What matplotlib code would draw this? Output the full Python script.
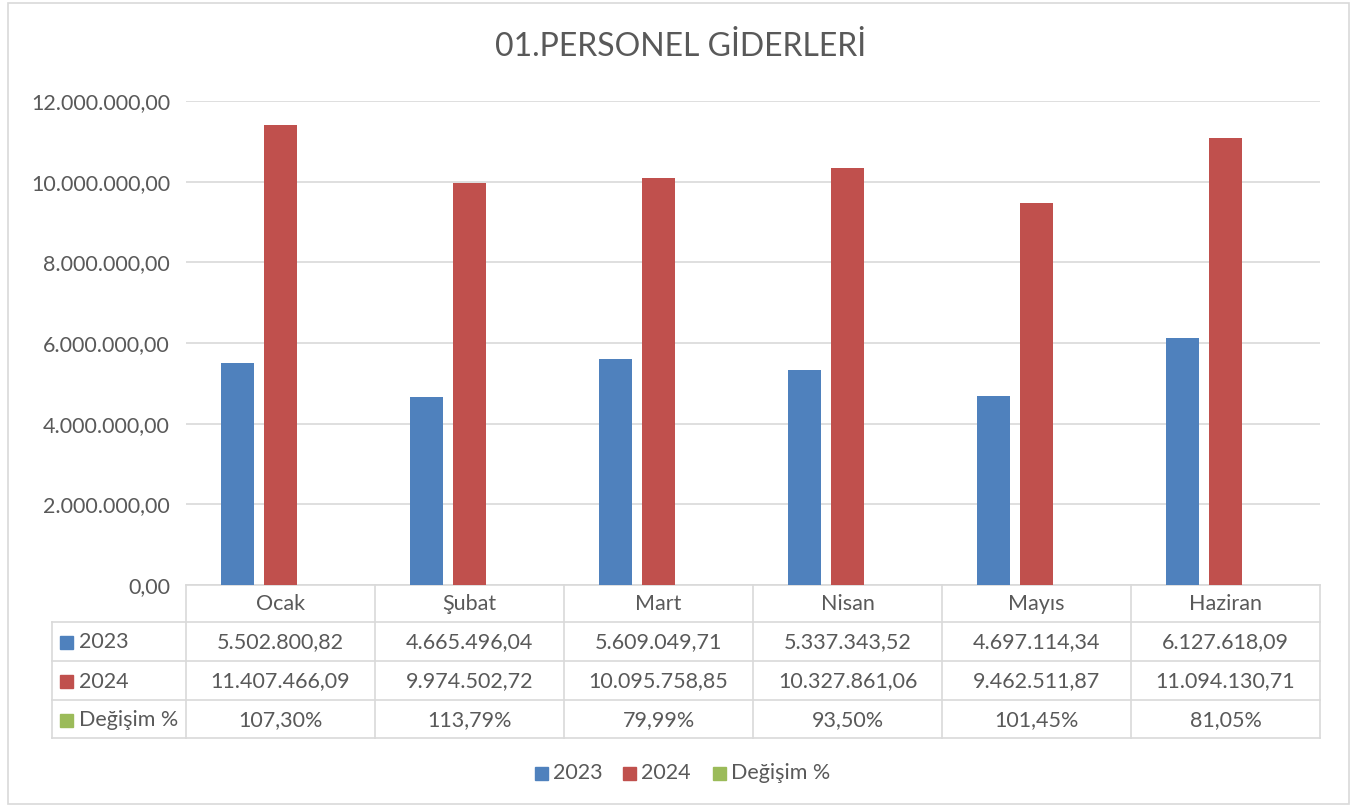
import matplotlib
matplotlib.use("Agg")
import matplotlib.pyplot as plt
import matplotlib.transforms as mtransforms
from matplotlib.patches import Rectangle
from matplotlib.ticker import FuncFormatter, MultipleLocator

plt.rcParams['font.family'] = ['Lato', 'DejaVu Sans']

title = "01.PERSONEL GİDERLERİ"
months = ["Ocak", "Şubat", "Mart", "Nisan", "Mayıs", "Haziran"]
series_names = ["2023", "2024", "Değişim %"]
v2023 = [5502800.82, 4665496.04, 5609049.71, 5337343.52, 4697114.34, 6127618.09]
v2024 = [11407466.09, 9974502.72, 10095758.85, 10327861.06, 9462511.87, 11094130.71]
change = [1.0730, 1.1379, 0.7999, 0.9350, 1.0145, 0.8105]
colors = ["#4F81BD", "#C0504D", "#9BBB59"]

TXT = "#595959"
GRID = "#D9D9D9"
FS = 15.5

W, H = 1362, 807
fig = plt.figure(figsize=(W / 100, H / 100), dpi=100)

# axes box in pixels
L, R, T, B = 186, 1320, 101, 585
ax = fig.add_axes([L / W, 1 - B / H, (R - L) / W, (B - T) / H])

def tr_num(v):
    s = f"{v:,.2f}"
    return s.replace(",", "X").replace(".", ",").replace("X", ".")

def tr_pct(v):
    return f"{v*100:.2f}".replace(".", ",") + "%"

n = len(months)
xs = list(range(n))
bw = 0.175
off = 0.2275
for i, (vals, c) in enumerate(zip([v2023, v2024, change], colors)):
    ax.bar([x + (i - 1) * off for x in xs], vals, width=bw, color=c, zorder=3)

ax.set_xlim(-0.5, n - 0.5)
ax.set_ylim(0, 12000000)
ax.yaxis.set_major_locator(MultipleLocator(2000000))
ax.yaxis.set_major_formatter(FuncFormatter(lambda v, p: tr_num(v)))
ax.grid(axis='y', color=GRID, linewidth=1.2, zorder=0)
for s in ["top", "right", "left"]:
    ax.spines[s].set_visible(False)
ax.spines["bottom"].set_color(GRID)
ax.spines["bottom"].set_linewidth(1.2)
ax.tick_params(axis='y', length=0, labelsize=FS, labelcolor=TXT, pad=11.5)
ax.set_xticks([])

# table
trans = mtransforms.blended_transform_factory(ax.transData, ax.transAxes)
def yf(py):
    return (B - py) / (B - T)

row_y = [585, 622, 661, 700, 738]
left_x = -0.5 - (L - 52) / 189.0
lk = dict(color=GRID, linewidth=1.2, transform=trans, clip_on=False)

for j, py in enumerate(row_y):
    if j == 0:
        continue
    ax.plot([left_x, n - 0.5], [yf(py), yf(py)], **lk)
for k in range(n + 1):
    ax.plot([k - 0.5, k - 0.5], [yf(585), yf(738)], **lk)
ax.plot([left_x, left_x], [yf(622), yf(738)], **lk)

for k, m in enumerate(months):
    ax.text(k, yf((585 + 622) / 2 + 1), m, ha='center', va='center', fontsize=FS,
            color=TXT, transform=trans)
rows = [[tr_num(v) for v in v2023], [tr_num(v) for v in v2024], [tr_pct(v) for v in change]]
for r in range(3):
    yc = yf((row_y[r + 1] + row_y[r + 2]) / 2 + 1)
    for k in range(n):
        ax.text(k, yc, rows[r][k], ha='center', va='center', fontsize=FS,
                color=TXT, transform=trans)
    fx = 60 / W
    fy = 1 - ((row_y[r + 1] + row_y[r + 2]) / 2 + 1) / H
    fig.patches.append(Rectangle((fx, fy - 6.5 / H), 13 / W, 13 / H, color=colors[r],
                                 transform=fig.transFigure))
    fig.text(79 / W, fy, series_names[r], ha='left', va='center', fontsize=FS, color=TXT)

# legend at bottom
lx = [535, 623, 713]
for i, name in enumerate(series_names):
    fy = 1 - 773 / H
    fig.patches.append(Rectangle((lx[i] / W, fy - 6.5 / H), 13 / W, 13 / H,
                                 color=colors[i], transform=fig.transFigure))
    fig.text((lx[i] + 18) / W, fy, name, ha='left', va='center', fontsize=FS, color=TXT)

# title
fig.text(0.5, 1 - 47 / H, title, ha='center', va='center', fontsize=23, color=TXT)

# outer border
fig.patches.append(Rectangle((8 / W, 3 / H), (1349 - 8) / W, (H - 6) / H, fill=False,
                             edgecolor=GRID, linewidth=1.2, transform=fig.transFigure))

fig.savefig("out.png", dpi=100)
